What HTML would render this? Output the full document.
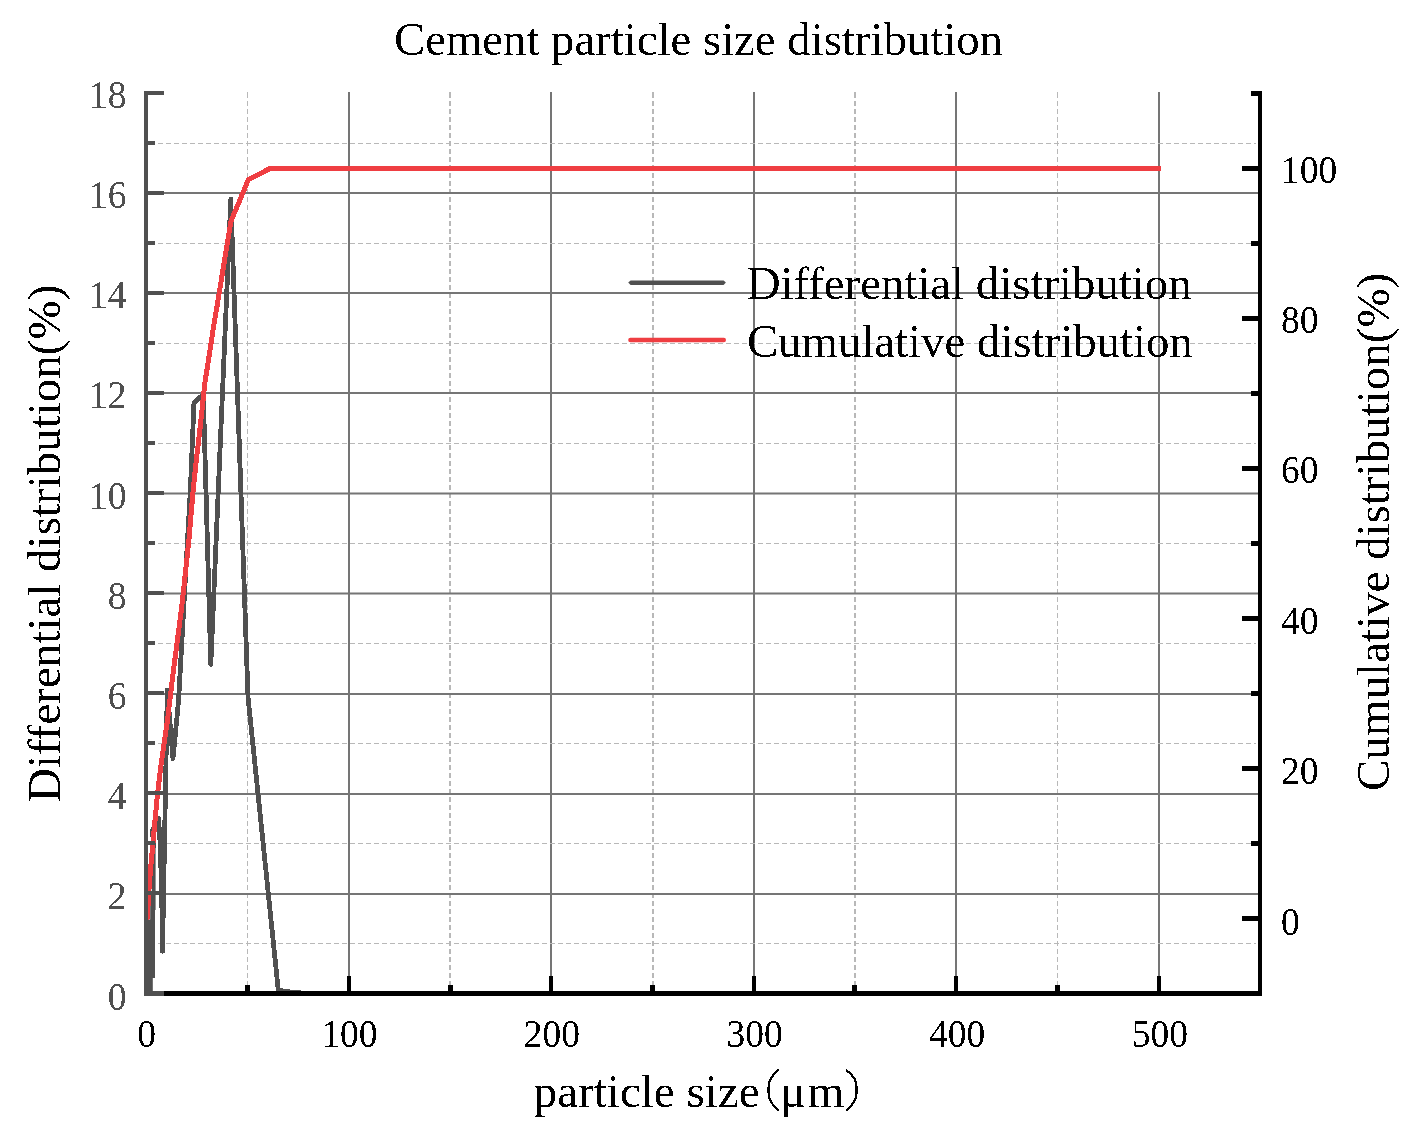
<!DOCTYPE html>
<html><head><meta charset="utf-8"><style>
html,body{margin:0;padding:0;background:#fff;}
svg{display:block;font-family:"Liberation Serif",serif;}
</style></head><body>
<svg width="1413" height="1131" viewBox="0 0 1413 1131">
<defs><filter id="bin" x="0" y="0" width="100%" height="100%" filterUnits="userSpaceOnUse" color-interpolation-filters="sRGB"><feComponentTransfer><feFuncA type="discrete" tableValues="0 1"/></feComponentTransfer></filter></defs>
<rect x="0" y="0" width="1413" height="1131" fill="#fff"/>
<line x1="247.5" y1="93" x2="247.5" y2="985" stroke="#b8b8b8" stroke-width="1" stroke-dasharray="5 3"/>
<rect x="247" y="92" width="1" height="1" fill="#b8b8b8"/>
<rect x="348" y="92" width="2" height="884" fill="#757575"/>
<line x1="450.0" y1="93" x2="450.0" y2="985" stroke="#b8b8b8" stroke-width="2" stroke-dasharray="5 3"/>
<rect x="449" y="92" width="2" height="1" fill="#b8b8b8"/>
<rect x="550" y="92" width="2" height="884" fill="#757575"/>
<line x1="653.0" y1="93" x2="653.0" y2="985" stroke="#b8b8b8" stroke-width="2" stroke-dasharray="5 3"/>
<rect x="652" y="92" width="2" height="1" fill="#b8b8b8"/>
<rect x="753" y="92" width="2" height="884" fill="#757575"/>
<line x1="855.0" y1="93" x2="855.0" y2="985" stroke="#b8b8b8" stroke-width="2" stroke-dasharray="5 3"/>
<rect x="854" y="92" width="2" height="1" fill="#b8b8b8"/>
<rect x="955" y="92" width="2" height="884" fill="#757575"/>
<line x1="1057.5" y1="93" x2="1057.5" y2="985" stroke="#b8b8b8" stroke-width="1" stroke-dasharray="5 3"/>
<rect x="1057" y="92" width="1" height="1" fill="#b8b8b8"/>
<rect x="1158" y="92" width="2" height="884" fill="#757575"/>
<line x1="150" y1="943.5" x2="1256" y2="943.5" stroke="#b8b8b8" stroke-width="1" stroke-dasharray="5 3"/>
<rect x="148" y="893" width="1110" height="2" fill="#757575"/>
<line x1="150" y1="843.5" x2="1256" y2="843.5" stroke="#b8b8b8" stroke-width="1" stroke-dasharray="5 3"/>
<rect x="148" y="793" width="1110" height="2" fill="#757575"/>
<line x1="150" y1="743.5" x2="1256" y2="743.5" stroke="#b8b8b8" stroke-width="1" stroke-dasharray="5 3"/>
<rect x="148" y="693" width="1110" height="2" fill="#757575"/>
<line x1="150" y1="643.5" x2="1256" y2="643.5" stroke="#b8b8b8" stroke-width="1" stroke-dasharray="5 3"/>
<rect x="148" y="592.5" width="1110" height="2" fill="#757575"/>
<line x1="150" y1="543.5" x2="1256" y2="543.5" stroke="#b8b8b8" stroke-width="1" stroke-dasharray="5 3"/>
<rect x="148" y="492.5" width="1110" height="2" fill="#757575"/>
<line x1="150" y1="443.5" x2="1256" y2="443.5" stroke="#b8b8b8" stroke-width="1" stroke-dasharray="5 3"/>
<rect x="148" y="392" width="1110" height="2" fill="#757575"/>
<line x1="150" y1="343.5" x2="1256" y2="343.5" stroke="#b8b8b8" stroke-width="1" stroke-dasharray="5 3"/>
<rect x="148" y="292" width="1110" height="2" fill="#757575"/>
<line x1="150" y1="243.5" x2="1256" y2="243.5" stroke="#b8b8b8" stroke-width="1" stroke-dasharray="5 3"/>
<rect x="148" y="192" width="1110" height="2" fill="#757575"/>
<line x1="150" y1="143.5" x2="1256" y2="143.5" stroke="#b8b8b8" stroke-width="1" stroke-dasharray="5 3"/>
<polygon points="148,993 148,919.5 150.2,919.5 150.2,896 151.8,891 151.8,846 155.6,846 155.6,910 155,910 155,978 152.8,978 152.8,993" fill="#505050"/>
<polyline points="153.7,846 152.4,831 158.5,818.5 160.3,845 161.8,900 162.5,951.4 167.3,690.3 173,758.6 178.6,700 186.4,560 190.4,490 194,402.5 203.3,394.5 210.8,664.5 230.8,199.2 248,697 278.3,990.3 287,991.6 297,992.6 310,993.5 1159,993.5" fill="none" stroke="#505050" stroke-width="4.8" stroke-linejoin="round" stroke-linecap="round" shape-rendering="crispEdges"/>
<polyline points="147.6,917.3 148.2,900 150.5,870 156.9,800 160.35,770 166.05,730 167.5,720 173.5,670 181.35,610 184.65,580 188.9,540 191.45,510 193.15,490 196.35,460 199.85,430 203.05,400 205,382 208.5,360 213.05,330 216.4,310 219.2,293 221.3,280 230.9,221.4 248.4,179.6 270,168.5 1159,168.5" fill="none" stroke="#ef3e42" stroke-width="5" stroke-linejoin="round" stroke-linecap="round" shape-rendering="crispEdges"/>
<polygon points="628.2,282.6 630.6,280.4 723.6,280.4 725.9,282.6 723.6,284.9 630.6,284.9" fill="#505050"/>
<line x1="630.4" y1="340" x2="723.8" y2="340" stroke="#ef3e42" stroke-width="4.4" stroke-linecap="round"/>
<g filter="url(#bin)"><text x="746.7" y="299" font-size="46.8" fill="#000">Differential distribution</text>
<text x="746.9" y="357" font-size="46.8" fill="#000">Cumulative distribution</text></g>
<rect x="164" y="991" width="1098" height="5" fill="#000"/>
<rect x="245" y="985" width="5" height="7" fill="#000"/>
<rect x="347" y="976" width="4" height="16" fill="#000"/>
<rect x="448" y="985" width="5" height="7" fill="#000"/>
<rect x="549" y="976" width="4" height="16" fill="#000"/>
<rect x="650" y="985" width="5" height="7" fill="#000"/>
<rect x="752" y="976" width="4" height="16" fill="#000"/>
<rect x="852" y="985" width="5" height="7" fill="#000"/>
<rect x="954" y="976" width="4" height="16" fill="#000"/>
<rect x="1055" y="985" width="5" height="7" fill="#000"/>
<rect x="1157" y="976" width="4" height="16" fill="#000"/>
<rect x="1258" y="91" width="4" height="905" fill="#000"/>
<rect x="1251" y="991" width="8" height="5" fill="#000"/>
<rect x="1242" y="916" width="17" height="5" fill="#000"/>
<rect x="1251" y="841" width="8" height="5" fill="#000"/>
<rect x="1242" y="766" width="17" height="5" fill="#000"/>
<rect x="1251" y="691" width="8" height="5" fill="#000"/>
<rect x="1242" y="616" width="17" height="5" fill="#000"/>
<rect x="1251" y="541" width="8" height="5" fill="#000"/>
<rect x="1242" y="466" width="17" height="5" fill="#000"/>
<rect x="1251" y="391" width="8" height="5" fill="#000"/>
<rect x="1242" y="316" width="17" height="5" fill="#000"/>
<rect x="1251" y="241" width="8" height="5" fill="#000"/>
<rect x="1242" y="166" width="17" height="5" fill="#000"/>
<rect x="1251" y="91" width="8" height="5" fill="#000"/>
<rect x="144" y="91" width="4" height="905" fill="#505050"/>
<rect x="144" y="991" width="20" height="5" fill="#505050"/>
<rect x="144" y="941" width="11" height="4" fill="#505050"/>
<rect x="144" y="891" width="20" height="4" fill="#505050"/>
<rect x="144" y="841" width="11" height="4" fill="#505050"/>
<rect x="144" y="791" width="20" height="4" fill="#505050"/>
<rect x="144" y="741" width="11" height="4" fill="#505050"/>
<rect x="144" y="691" width="20" height="4" fill="#505050"/>
<rect x="144" y="641" width="11" height="4" fill="#505050"/>
<rect x="144" y="591" width="20" height="4" fill="#505050"/>
<rect x="144" y="541" width="11" height="4" fill="#505050"/>
<rect x="144" y="491" width="20" height="4" fill="#505050"/>
<rect x="144" y="441" width="11" height="4" fill="#505050"/>
<rect x="144" y="391" width="20" height="4" fill="#505050"/>
<rect x="144" y="341" width="11" height="4" fill="#505050"/>
<rect x="144" y="291" width="20" height="4" fill="#505050"/>
<rect x="144" y="241" width="11" height="4" fill="#505050"/>
<rect x="144" y="191" width="20" height="4" fill="#505050"/>
<rect x="144" y="141" width="11" height="4" fill="#505050"/>
<rect x="144" y="91" width="20" height="4" fill="#505050"/>
<g filter="url(#bin)">
<text transform="translate(126.4,1009.55) scale(1.0,1.04)" font-size="37.5" fill="#505050" text-anchor="end">0</text>
<text transform="translate(126.4,909.35) scale(1.0,1.04)" font-size="37.5" fill="#505050" text-anchor="end">2</text>
<text transform="translate(126.4,809.15) scale(1.0,1.04)" font-size="37.5" fill="#505050" text-anchor="end">4</text>
<text transform="translate(126.4,708.95) scale(1.0,1.04)" font-size="37.5" fill="#505050" text-anchor="end">6</text>
<text transform="translate(126.4,608.75) scale(1.0,1.04)" font-size="37.5" fill="#505050" text-anchor="end">8</text>
<text transform="translate(126.4,508.55) scale(1.0,1.04)" font-size="37.5" fill="#505050" text-anchor="end">10</text>
<text transform="translate(126.4,408.35) scale(1.0,1.04)" font-size="37.5" fill="#505050" text-anchor="end">12</text>
<text transform="translate(126.4,308.15) scale(1.0,1.04)" font-size="37.5" fill="#505050" text-anchor="end">14</text>
<text transform="translate(126.4,207.95) scale(1.0,1.04)" font-size="37.5" fill="#505050" text-anchor="end">16</text>
<text transform="translate(126.4,107.75) scale(1.0,1.04)" font-size="37.5" fill="#505050" text-anchor="end">18</text>
<text transform="translate(146.70,1046.8) scale(1.0,1.04)" font-size="37.5" fill="#000" text-anchor="middle">0</text>
<text transform="translate(349.32,1046.8) scale(1.0,1.04)" font-size="37.5" fill="#000" text-anchor="middle">100</text>
<text transform="translate(551.95,1046.8) scale(1.0,1.04)" font-size="37.5" fill="#000" text-anchor="middle">200</text>
<text transform="translate(754.57,1046.8) scale(1.0,1.04)" font-size="37.5" fill="#000" text-anchor="middle">300</text>
<text transform="translate(957.20,1046.8) scale(1.0,1.04)" font-size="37.5" fill="#000" text-anchor="middle">400</text>
<text transform="translate(1159.83,1046.8) scale(1.0,1.04)" font-size="37.5" fill="#000" text-anchor="middle">500</text>
<text transform="translate(1281,934.55) scale(1.0,1.04)" font-size="37.5" fill="#000">0</text>
<text transform="translate(1281,784.19) scale(1.0,1.04)" font-size="37.5" fill="#000">20</text>
<text transform="translate(1281,633.83) scale(1.0,1.04)" font-size="37.5" fill="#000">40</text>
<text transform="translate(1281,483.47) scale(1.0,1.04)" font-size="37.5" fill="#000">60</text>
<text transform="translate(1281,333.11) scale(1.0,1.04)" font-size="37.5" fill="#000">80</text>
<text transform="translate(1281,182.75) scale(1.0,1.04)" font-size="37.5" fill="#000">100</text>
<text x="394.0" y="55" font-size="46.75" fill="#000">Cement particle size distribution</text>
<text transform="translate(60,802) rotate(-90)" font-size="47" fill="#000">Differential distribution(%)</text>
<text transform="translate(1389,790.9) rotate(-90)" font-size="47" fill="#000">Cumulative distribution(%)</text>
<text x="533.8" y="1106.6" font-size="47" fill="#000">particle size</text>
<path d="M778.7,1069.3 C772,1075 768.6,1080 768.6,1087 L768.6,1093 C768.6,1100 772,1105 778.7,1110.6" fill="none" stroke="#000" stroke-width="2.2"/>
<path d="M846.1,1069.9 C853,1075 856.6,1080 856.6,1087 L856.6,1093 C856.6,1100 853,1105 846.1,1111" fill="none" stroke="#000" stroke-width="2.2"/>
<text x="780.2" y="1106.7" font-size="47" fill="#000">μ</text>
<text x="807.7" y="1106.7" font-size="47" fill="#000">m</text>
</g>
</svg>
</body></html>
